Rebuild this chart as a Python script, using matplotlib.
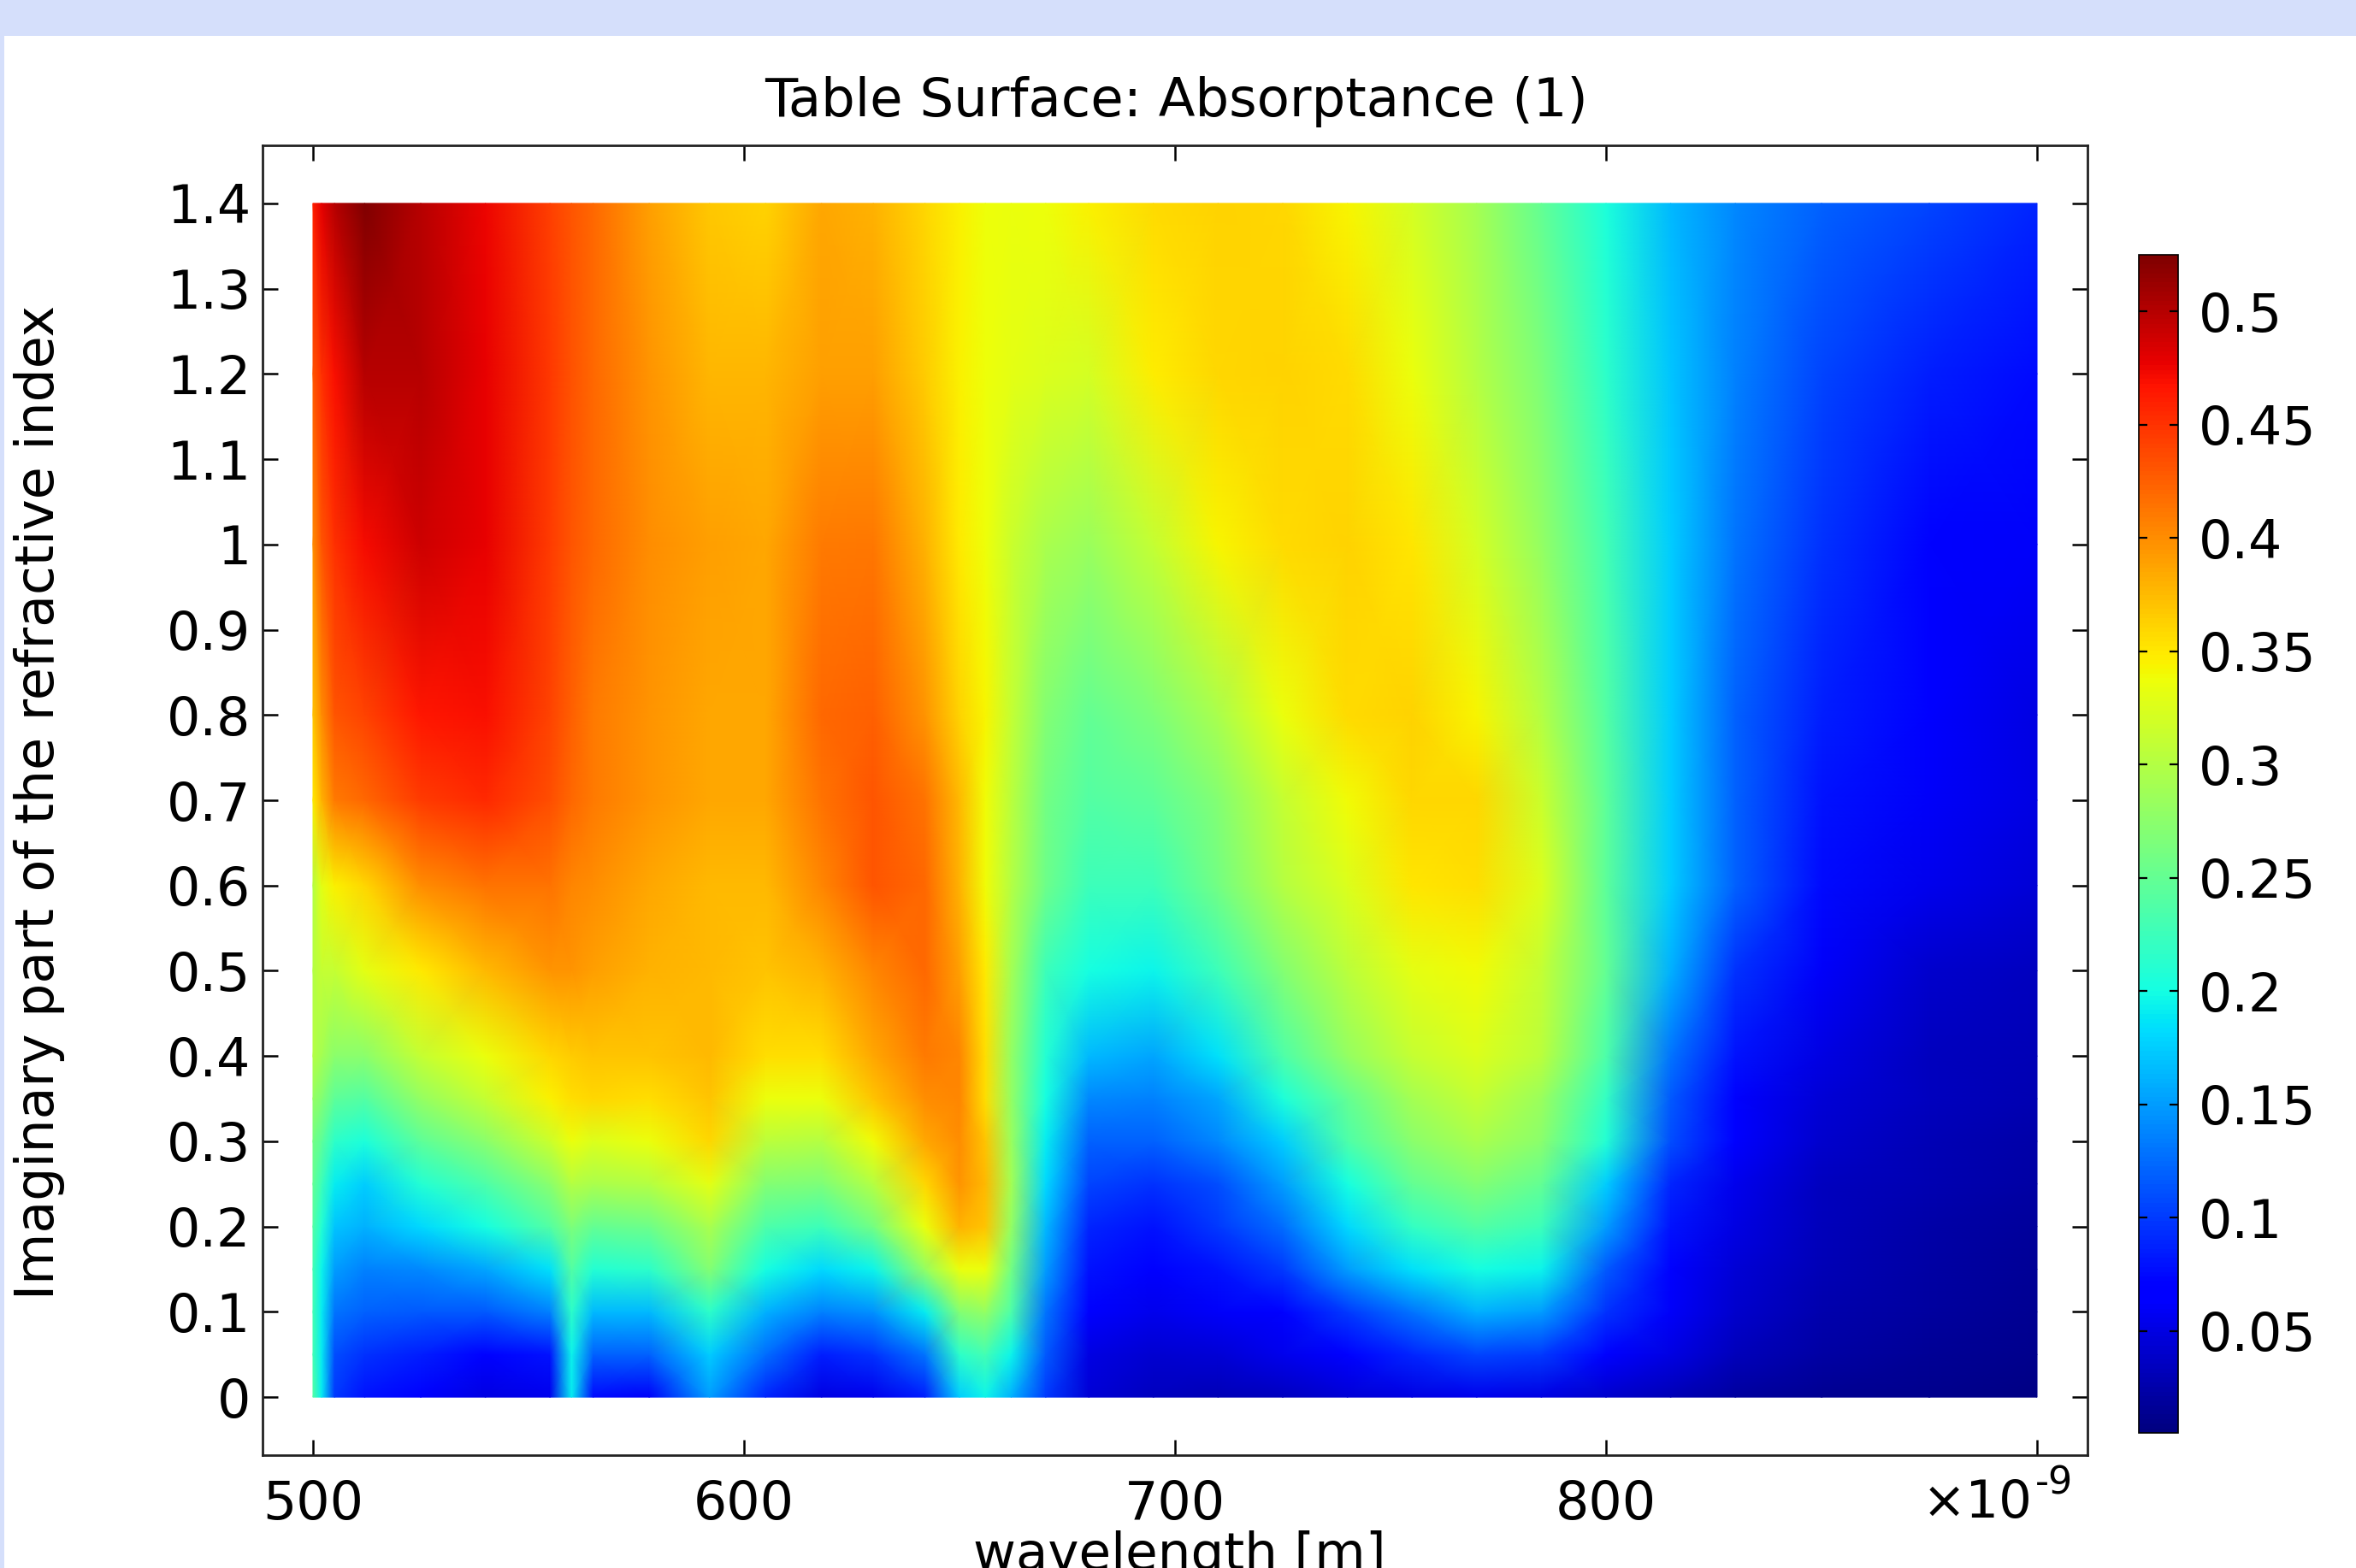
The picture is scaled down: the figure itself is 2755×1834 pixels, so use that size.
# plot.py

import numpy as np
import matplotlib
matplotlib.use("Agg")
import matplotlib.pyplot as plt
from matplotlib.patches import Rectangle

W, H = 2755, 1834
BAND = "#d5dffb"

wavelength = [500, 502, 505, 512, 525, 540, 555, 560, 565, 578, 592, 605, 618, 630, 642, 650, 656,
              662, 670, 680, 695, 710, 725, 740, 755, 770, 785, 800, 815, 830, 850, 875, 900]
k_values = [0, 0.05, 0.1, 0.15, 0.2, 0.25, 0.3, 0.35, 0.4, 0.5, 0.6, 0.7, 0.8, 1.0, 1.2, 1.4]

# absorptance, one list per k row
k000 = [.24, .19, .10, .08, .065, .05, .055, .19, .075, .06, .15, .09, .05, .055, .085, .175, .195,
        .16, .10, .045, .035, .03, .035, .045, .05, .055, .05, .04, .03, .02, .015, .012, .008]
k005 = [.23, .19, .11, .095, .085, .07, .08, .195, .12, .12, .175, .125, .085, .095, .13, .215, .23,
        .195, .115, .05, .042, .045, .055, .07, .09, .105, .10, .07, .05, .033, .022, .016, .012]
k010 = [.23, .19, .13, .12, .115, .115, .135, .215, .165, .165, .215, .16, .135, .145, .19, .27, .28,
        .235, .13, .065, .055, .06, .07, .10, .13, .16, .15, .095, .06, .04, .027, .02, .014]
k015 = [.23, .195, .15, .135, .14, .155, .185, .24, .21, .215, .27, .20, .18, .195, .28, .335, .335,
        .26, .15, .08, .065, .08, .10, .15, .185, .20, .195, .115, .07, .045, .03, .022, .016]
k020 = [.24, .21, .17, .16, .18, .20, .24, .265, .25, .255, .295, .235, .225, .26, .335, .38, .37,
        .28, .165, .09, .08, .10, .125, .18, .22, .24, .225, .15, .08, .05, .032, .025, .018]
k025 = [.25, .225, .19, .175, .21, .235, .275, .30, .295, .30, .33, .27, .265, .30, .36, .395, .375,
        .29, .18, .105, .095, .11, .15, .20, .25, .27, .25, .175, .09, .055, .035, .028, .022]
k030 = [.26, .245, .215, .205, .245, .275, .315, .335, .325, .335, .36, .305, .30, .34, .385, .40, .37,
        .285, .19, .12, .12, .14, .175, .235, .275, .295, .275, .21, .11, .065, .04, .03, .025]
k035 = [.28, .27, .245, .24, .28, .31, .345, .355, .36, .355, .37, .335, .335, .37, .40, .405, .355,
        .28, .20, .14, .135, .155, .205, .25, .29, .31, .285, .22, .115, .07, .045, .035, .028]
k040 = [.30, .29, .275, .275, .31, .335, .36, .365, .37, .37, .375, .355, .355, .385, .41, .405, .355,
        .28, .21, .165, .155, .185, .235, .28, .31, .325, .305, .235, .13, .08, .05, .035, .03]
k050 = [.30, .31, .31, .33, .35, .375, .395, .395, .39, .38, .375, .37, .38, .405, .42, .39, .35,
        .29, .225, .20, .195, .225, .27, .305, .33, .34, .31, .25, .16, .095, .06, .04, .035]
k060 = [.30, .33, .345, .36, .40, .415, .415, .405, .40, .385, .375, .375, .405, .43, .42, .38, .34,
        .30, .255, .225, .225, .26, .30, .325, .352, .355, .325, .245, .175, .12, .075, .055, .045]
k070 = [.35, .38, .41, .42, .445, .455, .435, .42, .41, .395, .385, .385, .415, .43, .415, .375, .34,
        .305, .26, .24, .245, .27, .31, .34, .36, .36, .315, .245, .175, .12, .08, .06, .05]
k080 = [.37, .40, .43, .44, .465, .47, .44, .425, .41, .395, .385, .385, .42, .425, .395, .362, .343,
        .31, .27, .25, .265, .295, .335, .358, .362, .343, .30, .24, .175, .12, .085, .065, .05]
k100 = [.40, .43, .45, .472, .49, .478, .445, .43, .42, .40, .39, .385, .41, .412, .38, .35, .338,
        .315, .295, .285, .31, .343, .358, .362, .352, .32, .28, .23, .175, .13, .095, .07, .06]
k120 = [.43, .45, .47, .50, .50, .478, .447, .432, .42, .395, .378, .378, .39, .39, .366, .345, .337,
        .33, .325, .32, .348, .36, .362, .358, .335, .30, .265, .215, .17, .135, .105, .085, .075]
k140 = [.46, .48, .50, .525, .50, .475, .442, .43, .42, .39, .368, .362, .385, .38, .36, .345, .338,
        .335, .338, .345, .358, .362, .36, .343, .32, .29, .25, .205, .165, .14, .12, .105, .09]

x_ticks = [500, 600, 700, 800, 900]
x_tick_labels = ["500", "600", "700", "800", ""]
y_ticks = [0, 0.1, 0.2, 0.3, 0.4, 0.5, 0.6, 0.7, 0.8, 0.9, 1.0, 1.1, 1.2, 1.3, 1.4]
y_tick_labels = ["0", "0.1", "0.2", "0.3", "0.4", "0.5", "0.6", "0.7", "0.8", "0.9", "1", "1.1", "1.2", "1.3", "1.4"]
cbar_ticks = [0.05, 0.1, 0.15, 0.2, 0.25, 0.3, 0.35, 0.4, 0.45, 0.5]
cbar_labels = ["0.05", "0.1", "0.15", "0.2", "0.25", "0.3", "0.35", "0.4", "0.45", "0.5"]


def box(left, top, right, bottom):
    # pixel box in the picture -> figure fractions
    return [left / W, 1 - bottom / H, (right - left) / W, (bottom - top) / H]


def main():
    plt.rcParams["font.family"] = "DejaVu Sans"
    fig = plt.figure(figsize=(W / 100, H / 100), dpi=100, facecolor="white")

    fig.add_artist(Rectangle((0, 1 - 42 / H), 1, 42 / H, transform=fig.transFigure, color=BAND, lw=0))
    fig.add_artist(Rectangle((0, 0), 5 / W, 1, transform=fig.transFigure, color=BAND, lw=0))

    ax = fig.add_axes(box(307, 170, 2441, 1702))
    z = np.array([k000, k005, k010, k015, k020, k025, k030, k035, k040, k050, k060, k070, k080, k100, k120, k140])
    mesh = ax.pcolormesh(wavelength, k_values, z, shading="gouraud", cmap="jet", vmin=0.005, vmax=0.525)

    ax.set_xlim(488.3, 911.7)
    ax.set_ylim(-0.068, 1.468)
    ax.set_xticks(x_ticks, x_tick_labels)
    ax.set_yticks(y_ticks, y_tick_labels)
    ax.tick_params(axis="both", direction="in", length=13, width=1.8, top=True, right=True, labelsize=44.5)
    ax.tick_params(axis="x", pad=20)
    ax.tick_params(axis="y", pad=10)
    for spine in ax.spines.values():
        spine.set_linewidth(2.0)
        spine.set_color("#222222")

    cax = fig.add_axes(box(2501, 298, 2547, 1676))
    cbar = fig.colorbar(mesh, cax=cax, ticks=cbar_ticks)
    cbar.ax.set_yticklabels(cbar_labels)
    cbar.ax.tick_params(direction="in", length=7, width=1.6, left=True, right=True, labelsize=44.5, pad=17)
    cbar.outline.set_linewidth(1.2)

    fig.text(1376 / W, 1 - 119 / H, "Table Surface: Absorptance (1)", ha="center", va="center", fontsize=45)
    fig.text(46 / W, 1 - 938 / H, "Imaginary part of the refractive index", rotation=90,
             ha="center", va="center", fontsize=44.5)
    fig.text(1379 / W, 1 - 1790 / H, "wavelength [m]", ha="center", va="top", fontsize=44)
    fig.text(2376 / W, 1 - 1775 / H, "×10", ha="right", va="baseline", fontsize=44)
    fig.text(2380 / W, 1 - 1747 / H, "-9", ha="left", va="baseline", fontsize=32)

    fig.savefig("out.png", dpi=100)


if __name__ == "__main__":
    main()
